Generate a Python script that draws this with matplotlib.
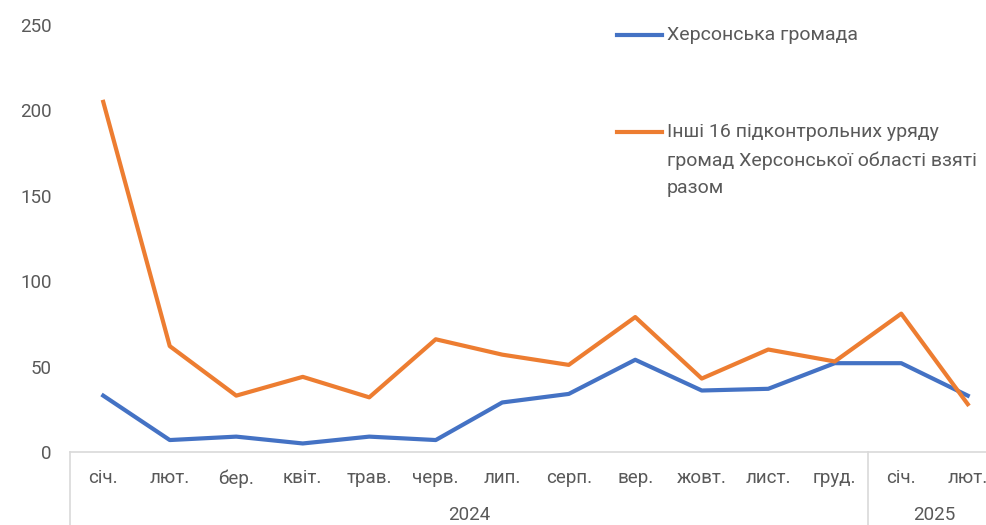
import matplotlib.pyplot as plt
from matplotlib.lines import Line2D
import matplotlib.transforms as mtransforms

plt.rcParams['font.family'] = ['Roboto', 'DejaVu Sans']

months = ["січ.", "лют.", "бер.", "квіт.", "трав.", "черв.", "лип.",
          "серп.", "вер.", "жовт.", "лист.", "груд.", "січ.", "лют."]
years = ["2024", "2025"]
year_sizes = [12, 2]

kherson = [33, 7, 9, 5, 9, 7, 29, 34, 54, 36, 37, 52, 52, 33]
others = [205, 62, 33, 44, 32, 66, 57, 51, 79, 43, 60, 53, 81, 28]

label_kherson = "Херсонська громада"
label_others = "Інші 16 підконтрольних уряду\nгромад Херсонської області взяті\nразом"

BLUE = "#4472C4"
ORANGE = "#ED7D31"
TXT = "#595959"
GRID = "#D9D9D9"

fig = plt.figure(figsize=(9.87, 5.25), dpi=100)
ax = fig.add_axes([70 / 987, 1 - 452 / 525, (1001 - 70) / 987, (452 - 25) / 525])

x = list(range(len(months)))
ax.plot(x, kherson, color=BLUE, lw=3, solid_joinstyle="round", zorder=3)
ax.plot(x, others, color=ORANGE, lw=3, solid_joinstyle="round", zorder=3)

ax.set_xlim(-0.5, len(months) - 0.5)
ax.set_ylim(0, 250)
ax.set_yticks(range(0, 251, 50))
ax.tick_params(axis="y", length=0, pad=13, labelsize=13.5, labelcolor=TXT)
ax.set_xticks([])
for s in ["top", "right", "left"]:
    ax.spines[s].set_visible(False)
ax.spines["bottom"].set_color(GRID)
ax.spines["bottom"].set_linewidth(1.2)

# two-level category axis
trans = mtransforms.blended_transform_factory(ax.transData, ax.transAxes)
for i, m in enumerate(months):
    ax.text(i, -0.062, m, transform=trans, ha="center", va="center",
            fontsize=13.5, color=TXT)
start = 0
for y, n in zip(years, year_sizes):
    ax.text(start + n / 2 - 0.5, -0.148, y, transform=trans, ha="center",
            va="center", fontsize=13.5, color=TXT)
    ax.add_line(Line2D([start - 0.5, start - 0.5], [0, -0.2], transform=trans,
                       color=GRID, lw=1.2, clip_on=False))
    start += n

# legend
fig.add_artist(Line2D([617 / 987, 662 / 987], [1 - 35 / 525] * 2, color=BLUE, lw=3))
fig.text(667 / 987, 1 - 35 / 525, label_kherson, ha="left", va="center",
         fontsize=14, color=TXT)
fig.add_artist(Line2D([617 / 987, 662 / 987], [1 - 132 / 525] * 2, color=ORANGE, lw=3))
fig.text(667 / 987, 1 - 123 / 525, label_others, ha="left", va="top",
         fontsize=14, color=TXT, linespacing=1.7)

fig.savefig("out.png", dpi=100)
